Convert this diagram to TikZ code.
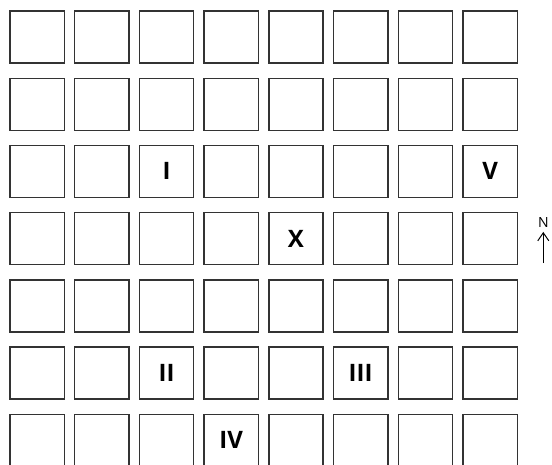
\documentclass[tikz,border=0pt]{standalone}
\usepackage{fontspec}
\newfontfamily\labfont{Open Sans}
\usetikzlibrary{arrows.meta}
\tikzset{
  sq/.style={draw=black!80, line width=1.4pt, minimum width=54.3pt, minimum height=52pt, inner sep=0pt, font=\labfont\bfseries\fontsize{24}{24}\selectfont},
  northlab/.style={inner sep=0pt, font=\labfont\fontsize{14}{14}\selectfont},
  northarrow/.style={line width=1pt, -{Straight Barb[length=8pt,width=11pt,line width=1pt]}}
}
\begin{document}
\begin{tikzpicture}[x=1pt,y=-1pt]
\useasboundingbox (0,0) rectangle (552,464);
\foreach \i in {0,...,7}{
  \foreach \j in {0,...,6}{
    \node[sq] (s-\i-\j) at ({10+64.7*\i+27.15},{11+67.2*\j+26}) {};
  }
}
\node[sq,draw=none] (lI) at (s-2-2) {I};
\node[sq,draw=none] (lV) at (s-7-2) {V};
\node[sq,draw=none] (lX) at (s-4-3) {X};
\node[sq,draw=none] (lII) at (s-2-5) {II};
\node[sq,draw=none] (lIII) at (s-5-5) {III};
\node[sq,draw=none] (lIV) at (s-3-6) {IV};
\node[northlab, anchor=base] (N) at (543.3,227.7) {N};
\coordinate (arrbase) at (543.3,263);
\draw[northarrow, shorten >=4pt] (arrbase) -- (N.south);
\end{tikzpicture}
\end{document}
